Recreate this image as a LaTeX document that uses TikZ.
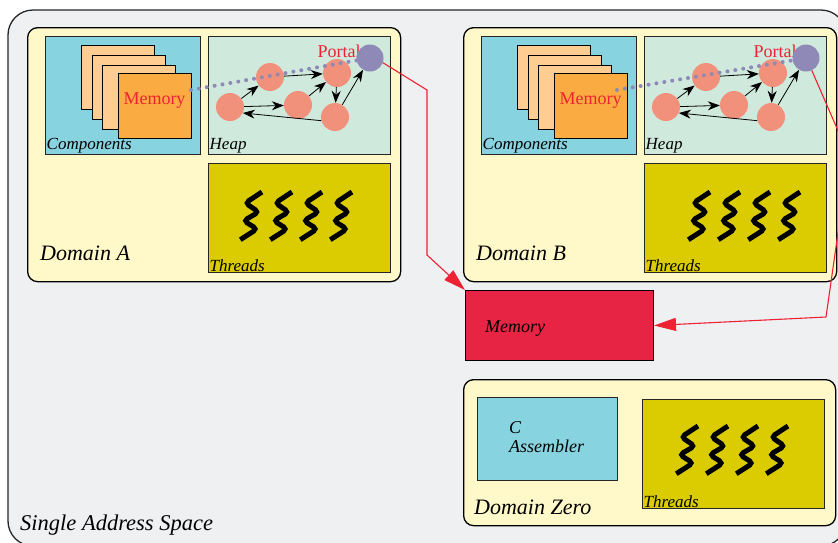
\documentclass[tikz,border=0pt]{standalone}
\usepackage{fontspec}
\setmainfont{Liberation Serif}
\usetikzlibrary{arrows.meta}

\definecolor{spacegray}{HTML}{EFF0F2}
\definecolor{domainyellow}{HTML}{FFF9C9}
\definecolor{compblue}{HTML}{88D3E0}
\definecolor{heapgreen}{HTML}{D0E9DD}
\definecolor{threadolive}{HTML}{DACC00}
\definecolor{layerpeach}{HTML}{FFCD92}
\definecolor{memorange}{HTML}{FAAB42}
\definecolor{objsalmon}{HTML}{F2917B}
\definecolor{portalblue}{HTML}{8E89B7}
\definecolor{ramred}{HTML}{E72443}
\definecolor{linkred}{HTML}{EE2233}

\tikzset{
  spacebox/.style={draw=black!85, fill=spacegray, line width=1.3pt, rounded corners=25pt},
  dombox/.style={draw=black, fill=domainyellow, line width=1.3pt, rounded corners=10pt, anchor=north west, inner sep=0pt},
  areabox/.style={draw=black!85, line width=1pt, anchor=north west, inner sep=0pt},
  layerbox/.style={draw=black, fill=layerpeach, line width=1.2pt, anchor=north west, minimum width=73pt, minimum height=64pt, inner sep=0pt},
  objnode/.style={circle, fill=objsalmon, minimum size=28pt, inner sep=0pt},
  portalnode/.style={circle, fill=portalblue, minimum size=27pt, inner sep=0pt},
  refarrow/.style={-{Stealth[length=12pt,width=9pt]}, line width=0.8pt},
  tapline/.style={portalblue, line width=4pt, line cap=round, dash pattern=on 0pt off 8pt},
  linkarrow/.style={linkred, line width=1.1pt, -{Triangle[length=22pt,width=13pt]}},
  redword/.style={text=linkred, font=\fontsize{18}{18}\selectfont, inner sep=0pt},
  boxlabel/.style={font=\itshape\fontsize{17}{17}\selectfont, anchor=south west, inner sep=1.5pt},
  domainlabel/.style={font=\itshape\fontsize{22}{22}\selectfont, anchor=west, inner sep=0pt},
  thread/.pic={\draw[line width=5pt, rounded corners=4pt] (0,0) -- (-16.7,11) -- (-3.3,20) -- (-18.3,28.7) -- (-5,37) -- (-21.7,47.7);}
}

\begin{document}
\begin{tikzpicture}[x=1pt, y=-1pt]
    \useasboundingbox (0,0) rectangle (838,542);
    \clip (0,0) rectangle (838,542);
    \fill[white] (0,0) rectangle (838,542);
    \draw[spacebox] (8,10) rectangle (846,546);
    \node[domainlabel] (spacetxt) at (20,525) {\fontsize{22.5}{22.5}\selectfont Single Address Space};

    % Domain A
    \begin{scope}
    \node[dombox, minimum width=373pt, minimum height=254pt] (domA) at (27,27) {};
    \node[areabox, fill=compblue, minimum width=155pt, minimum height=118pt] (compA) at (45,36) {};
    \node[layerbox] (layA1) at (81,45) {};
    \node[layerbox] (layA2) at (92,55) {};
    \node[layerbox] (layA3) at (102,65) {};
    \node[layerbox, fill=memorange, minimum height=65pt] (memA) at (118,73) {};
    \node[redword] (memtxtA) at (154.5,101) {Memory};
    \node[boxlabel] at (compA.south west) {Components};
    \node[areabox, fill=heapgreen, minimum width=182pt, minimum height=118pt] (heapA) at (208,36) {};
    \node[boxlabel] at (heapA.south west) {Heap};
    \node[areabox, fill=threadolive, minimum width=182pt, minimum height=109pt] (thrA) at (208,163) {};
    \node[boxlabel] at (thrA.south west) {Threads};
    \pic at (262,192) {thread};
    \pic at (292,192) {thread};
    \pic at (322,192) {thread};
    \pic at (352,192) {thread};
    \node[objnode] (a1) at (230,107) {};
    \node[objnode] (a2) at (270,77) {};
    \node[objnode] (a3) at (298,105) {};
    \node[objnode] (a4) at (337,73) {};
    \node[objnode] (a5) at (335,117) {};
    \node[redword] (portaltxtA) at (339,51) {Portal};
    \node[portalnode] (portalA) at (370,58) {};
    \draw[refarrow] (a1) -- (a2);
    \draw[refarrow] (a1) -- (a3);
    \draw[refarrow] (a2) -- (a4);
    \draw[refarrow] (a3) -- (a4);
    \draw[refarrow] (a4) -- (a5);
    \draw[refarrow] (a5) -- (portalA);
    \draw[refarrow] (a5.195) -- (a1.-25);
    \coordinate (tapA) at (191,90);
    \draw[tapline] (tapA) -- (portalA.190);
    \node[domainlabel] at (40,253) {Domain A};
    \end{scope}

    % Domain B
    \begin{scope}[xshift=436pt]
    \node[dombox, minimum width=373pt, minimum height=254pt] (domB) at (27,27) {};
    \node[areabox, fill=compblue, minimum width=155pt, minimum height=118pt] (compB) at (45,36) {};
    \node[layerbox] (layB1) at (81,45) {};
    \node[layerbox] (layB2) at (92,55) {};
    \node[layerbox] (layB3) at (102,65) {};
    \node[layerbox, fill=memorange, minimum height=65pt] (memB) at (118,73) {};
    \node[redword] (memtxtB) at (154.5,101) {Memory};
    \node[boxlabel] at (compB.south west) {Components};
    \node[areabox, fill=heapgreen, minimum width=182pt, minimum height=118pt] (heapB) at (208,36) {};
    \node[boxlabel] at (heapB.south west) {Heap};
    \node[areabox, fill=threadolive, minimum width=182pt, minimum height=109pt] (thrB) at (208,163) {};
    \node[boxlabel] at (thrB.south west) {Threads};
    \pic at (274,192) {thread};
    \pic at (304,192) {thread};
    \pic at (334,192) {thread};
    \pic at (364,192) {thread};
    \node[objnode] (b1) at (230,107) {};
    \node[objnode] (b2) at (270,77) {};
    \node[objnode] (b3) at (298,105) {};
    \node[objnode] (b4) at (337,73) {};
    \node[objnode] (b5) at (335,117) {};
    \node[redword] (portaltxtB) at (339,51) {Portal};
    \node[portalnode] (portalB) at (370,58) {};
    \draw[refarrow] (b1) -- (b2);
    \draw[refarrow] (b1) -- (b3);
    \draw[refarrow] (b2) -- (b4);
    \draw[refarrow] (b3) -- (b4);
    \draw[refarrow] (b4) -- (b5);
    \draw[refarrow] (b5) -- (portalB);
    \draw[refarrow] (b5.195) -- (b1.-25);
    \coordinate (tapB) at (181,90);
    \draw[tapline] (tapB) -- (portalB.190);
    \node[domainlabel] at (40,253) {Domain B};
    \end{scope}

    % shared memory
    \node[areabox, draw=black, fill=ramred, minimum width=188pt, minimum height=70pt] (ram) at (465,290) {};
    \node[font=\itshape\fontsize{18}{18}\selectfont, anchor=west, inner sep=0pt] (ramtxt) at (485,329) {Memory};

    % Domain Zero
    \node[dombox, minimum width=372pt, minimum height=146pt] (domZ) at (463,379) {};
    \node[areabox, fill=compblue, minimum width=140pt, minimum height=83pt] (lang) at (477,397) {};
    \node[font=\itshape\fontsize{18}{19}\selectfont, align=left, anchor=north west, inner sep=0pt] (langtxt) at (509,421.5) {C\\Assembler};
    \node[areabox, fill=threadolive, minimum width=182pt, minimum height=109pt] (thrZ) at (642,399) {};
    \node[boxlabel] at (thrZ.south west) {Threads};
    \pic at (698,426) {thread};
    \pic at (728,426) {thread};
    \pic at (758,426) {thread};
    \pic at (788,426) {thread};
    \node[domainlabel] at (474,507) {Domain Zero};

    % portals to memory
    \draw[linkarrow] (portalA.-20) -- (427,90) -- (427,255) -- (ram.north west);
    \draw[linkarrow] (portalB.-65) -- (849,156) -- (826,317) -- (ram.east);
\end{tikzpicture}
\end{document}
